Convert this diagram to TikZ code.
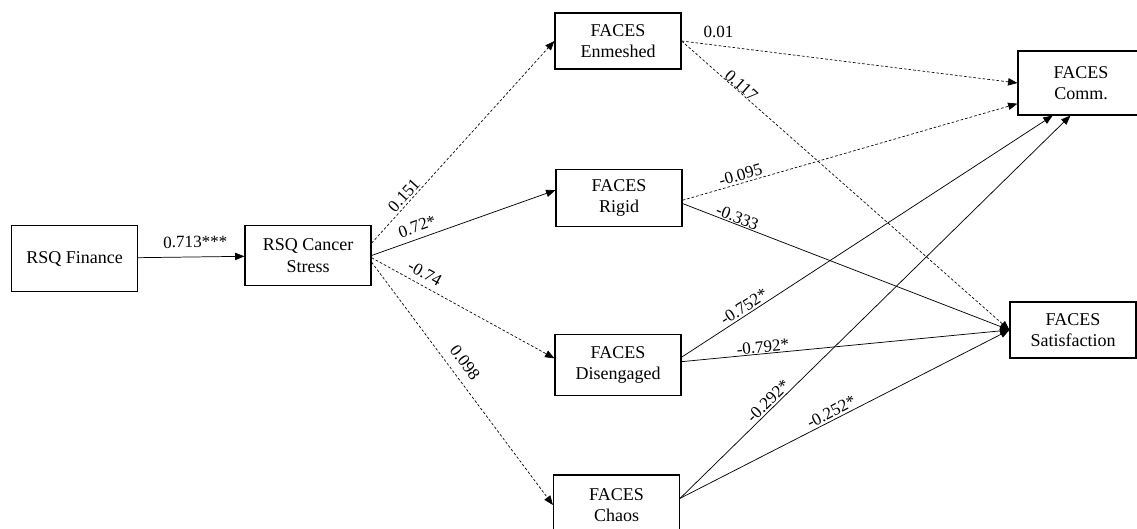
\documentclass[tikz,border=0pt]{standalone}
\usepackage{fontspec}
\setmainfont{Liberation Serif}
\usetikzlibrary{arrows.meta}

\begin{document}
\begin{tikzpicture}[x=0.75pt,y=-0.75pt,>={Triangle[length=7pt,width=5.5pt]},
  varbox/.style={draw,line width=0.9pt,align=center,inner sep=0pt,minimum width=94.5pt,minimum height=45pt,font=\fontsize{13.5}{16}\selectfont},
  sig/.style={->,line width=0.55pt},
  nsig/.style={->,line width=0.5pt,dash pattern=on 2pt off 1.5pt},
  lab/.style={font=\fontsize{12.8}{14}\selectfont,sloped,above,inner sep=1.5pt}]
  \useasboundingbox (0,0) rectangle (1137,528);
  % variables
  \node[varbox,minimum height=50pt] (fin) at (74.5,258.5) {RSQ Finance};
  \node[varbox] (cancer) at (308,255.5) {RSQ Cancer\\Stress};
  \node[varbox,minimum height=42pt] (enm) at (618,41) {FACES\\Enmeshed};
  \node[varbox,minimum height=43pt] (rigid) at (619,198) {FACES\\Rigid};
  \node[varbox,minimum height=46pt] (dis) at (618,365) {FACES\\Disengaged};
  \node[varbox] (chaos) at (616.5,505) {FACES\\Chaos};
  \node[varbox,minimum height=48pt] (comm) at (1081,83) {FACES\\Comm.};
  \node[varbox,minimum height=42pt] (sat) at (1073,330) {FACES\\Satisfaction};
  % paths
  \draw[sig] (fin) -- node[lab,pos=0.54,above=5pt] {0.713***} (cancer);
  \draw[nsig] (cancer.11) -- node[lab,pos=0.21] {0.151} (enm.west);
  \draw[sig] (cancer.east) -- node[lab,pos=0.27,above=3pt] {0.72*} (rigid.173);
  \draw[nsig] (cancer.-2) -- node[lab,pos=0.26,above=3pt] {-0.74} (dis.174);
  \draw[nsig] (cancer.-6) -- node[lab,pos=0.45,above=5pt] {0.098} (chaos.west);
  \draw[nsig] (enm.east) -- node[lab,sloped=false,pos=0.11,above=4pt] {0.01} (comm.west);
  \draw[nsig] (enm.east) -- node[lab,pos=0.17,inner sep=0pt] {0.117} (sat.west);
  \draw[nsig] (rigid.-2) -- node[lab,pos=0.18] {-0.095} (comm.198);
  \draw[sig] (rigid.-5) -- node[lab,pos=0.16,inner sep=0.5pt] {-0.333} (sat.west);
  \draw[sig] (dis.7) -- node[lab,pos=0.18] {-0.752*} (comm.229);
  \draw[sig] (dis.3) -- node[lab,pos=0.25,inner sep=0.5pt] {-0.792*} (sat.west);
  \draw[sig] (chaos.6) -- node[lab,pos=0.24] {-0.292*} (comm.252);
  \draw[sig] (chaos.6) -- node[lab,pos=0.47] {-0.252*} (sat.west);
\end{tikzpicture}
\end{document}
